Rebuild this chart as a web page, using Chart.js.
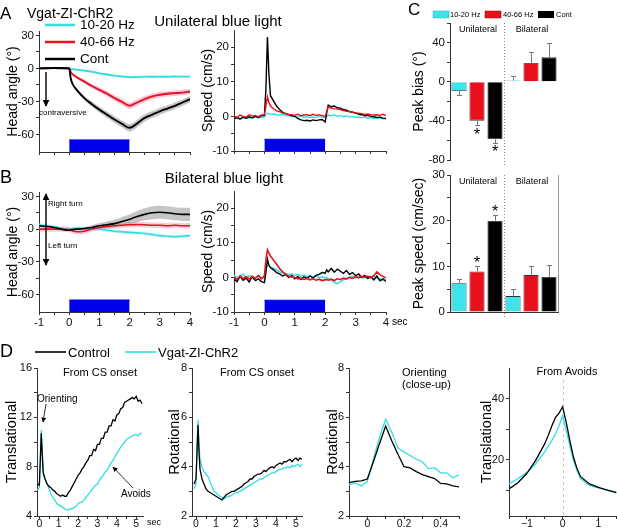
<!DOCTYPE html>
<html>
<head>
<meta charset="utf-8">
<script src="https://cdn.jsdelivr.net/npm/chart.js@4.4.1/dist/chart.umd.min.js"></script>
<style>
  html, body { margin: 0; padding: 0; background: #fff; }
  body { width: 617px; height: 528px; position: relative; overflow: hidden;
         font-family: "Liberation Sans", Arial, sans-serif; color: #000; }
  canvas { position: absolute; }
  .t { position: absolute; white-space: nowrap; line-height: 1; }
  svg { position: absolute; left: 0; top: 0; z-index: 2; }
</style>
</head>
<body>
<svg width="617" height="528" viewBox="0 0 617 528">
  <defs>
    <marker id="ah" viewBox="0 0 10 10" refX="9" refY="5" markerWidth="5" markerHeight="5" orient="auto-start-reverse">
      <path d="M0,0 L10,5 L0,10 z" fill="#000"/>
    </marker>
  </defs>
  <!-- A legend -->
  <line x1="45" y1="25" x2="75" y2="25" stroke="#33dde6" stroke-width="2.5"/>
  <line x1="45" y1="42" x2="75" y2="42" stroke="#e8101a" stroke-width="2.5"/>
  <line x1="45" y1="59" x2="75" y2="59" stroke="#000" stroke-width="2.5"/>
  <!-- A / B arrows -->
  <line x1="46" y1="72" x2="46" y2="106" stroke="#000" stroke-width="1.4" marker-end="url(#ah)"/>
  <line x1="46" y1="194" x2="46" y2="265" stroke="#000" stroke-width="1.4" marker-start="url(#ah)" marker-end="url(#ah)"/>
  <!-- C legend -->
  <rect x="433" y="11" width="16" height="7" fill="#3fe3ea" stroke="#2bb" stroke-width="0.5"/>
  <rect x="485" y="11" width="16" height="7" fill="#e8101a" stroke="#900" stroke-width="0.5"/>
  <rect x="538" y="11" width="16" height="7" fill="#000"/>
  <!-- D legend -->
  <line x1="35" y1="352" x2="66" y2="352" stroke="#000" stroke-width="1.6"/>
  <line x1="125" y1="352" x2="156" y2="352" stroke="#33dde6" stroke-width="1.6"/>
  <!-- D annotations -->
  <line x1="46" y1="404" x2="43" y2="422" stroke="#333" stroke-width="1" marker-end="url(#ah)"/>
  <line x1="133" y1="488" x2="113" y2="467" stroke="#333" stroke-width="1" marker-end="url(#ah)"/>
</svg>
<script>
'use strict';

// ── Panels A/B: time bases (sec) ──────────────────────────────
const tAngle = [-1,-0.5,0,0.05,0.1,0.25,0.5,0.75,1,1.25,1.5,1.75,2,2.1,2.25,2.5,2.75,3,3.25,3.5,3.75,4];
const tSpeed = [-1,-0.9,-0.8,-0.7,-0.6,-0.5,-0.4,-0.3,-0.2,-0.1,0,0.05,0.1,0.15,0.2,0.3,0.4,0.5,0.6,0.7,0.8,0.9,1,1.1,1.2,1.3,1.4,1.5,1.6,1.7,1.8,1.9,2,2.05,2.1,2.2,2.3,2.4,2.5,2.6,2.7,2.8,2.9,3,3.1,3.2,3.3,3.4,3.5,3.6,3.7,3.8,3.9,4];
const lightOn = [0, 2];
const lightTopAngle = -65;
const lightTopSpeed = -6.6;

// A: unilateral, head angle (deg)
const angUniCyan  = [0,0.5,0,-0.3,-0.6,-1.2,-2,-3,-4.5,-5.5,-6.6,-7.3,-8,-8,-7.8,-7.5,-7.6,-7.5,-7.6,-7.4,-7.5,-7.5];
const angUniRed   = [0,0.3,0,-3,-5,-8,-12,-16,-19.5,-23,-27,-30.5,-34,-33,-31,-28,-25.5,-24,-23,-22.5,-22,-21];
const angUniBlack = [0,0.3,0,-9,-13.5,-19.5,-27,-32.5,-37.5,-42,-46.5,-50.5,-54,-53,-50,-45,-42,-39,-36.5,-34,-31,-28];
const semUniCyan  = 0.8;
const semUniRed   = [0.3,0.3,0.3,0.8,1,1.3,1.6,2,2.2,2.4,2.6,2.8,3,3,3,2.8,2.7,2.6,2.5,2.5,2.5,2.5];
const semUniBlack = [0.3,0.3,0.3,1,1.3,1.6,2,2.3,2.6,2.8,3,3.2,3.4,3.4,3.4,3.3,3.2,3.1,3,3,3,3];

// A: unilateral, speed (cm/s)
const spdUniBlack = [-0.6,-0.3,-0.7,-0.2,-0.5,-0.1,-0.4,0.1,-0.3,0.2,0.3,8,23,12,6,4.5,3,2,1.2,0.8,0.5,0.2,0,-0.6,-1,-1.2,-1.1,-1.3,-1,-1.2,-1,-0.9,-1.6,1,3.3,2.8,3,2.5,2.4,2,1.8,1.4,1.2,1,0.6,0.5,0.2,0.3,0,-0.1,-0.3,-0.2,-0.5,-0.6];
const spdUniRed   = [0.2,-0.3,0.4,0,-0.2,0.5,0.1,0.3,-0.1,0.4,0.5,3,5.7,4,3,2.2,1.6,1.4,1,0.8,0.6,0.5,0.3,0.6,0.2,0.4,0.5,0.2,0.6,0.3,0.5,0.2,0,1.5,2.7,2.4,2.2,2.1,2,1.7,1.5,1.4,1.2,1,0.9,0.8,0.6,0.7,0.5,0.4,0.5,0.3,0.6,0.3];
const spdUniCyan  = [-0.8,-0.5,-0.9,-0.4,-0.6,-0.3,-0.5,-0.2,-0.4,-0.3,-0.2,0.5,0.9,0.8,0.6,0.7,0.5,0.4,0.6,0.2,0.3,0,0.1,-0.2,0.1,-0.3,-0.1,-0.4,-0.2,-0.3,0,-0.2,-0.3,0,0.4,0.2,0.5,0,0.3,-0.1,0.2,-0.2,0,-0.3,-0.1,-0.4,-0.2,-0.5,-0.3,-0.6,-0.4,-0.5,-0.7,-0.6];

// B: bilateral, head angle (deg)
const angBiBlack = [3,1.5,-1,-0.8,-0.5,0,0.5,1.5,3,4,5,7,9,10,11.5,13.5,15,15.5,15,14,13.5,13.5];
const angBiRed   = [0,0,-0.5,-1,-1.5,-2.5,-2,0,1.5,2.5,3,3.5,4,4,4.2,4,3.5,3.5,3,3.5,3,3];
const angBiCyan  = [4,2,0,0.3,0.6,1,0.5,0.5,0,-1,-2,-2.5,-3,-3.2,-3.5,-4,-5,-6,-6.5,-7,-6.5,-6];
const semBiBlack = [1,1,1,1,1,1,1.5,2,2.5,3,3.5,4,4.5,4.8,5,5.5,6,6,6,6,6,6];
const semBiRed   = 2.5;
const semBiCyan  = 1.5;

// B: bilateral, speed (cm/s)
const spdBiRed   = [0,-0.6,0.4,-0.3,0.2,-0.5,0.3,-0.2,0.5,-0.4,0.5,5,8,7,6.2,5,3.8,2.6,1.6,0.8,0.4,0.1,0,-0.4,-0.2,-0.6,-0.3,-0.7,-0.4,-0.8,-0.5,-0.9,-0.7,-0.6,-0.8,-0.5,-0.9,-0.4,-0.6,-0.2,-0.5,0,-0.3,0.2,-0.1,0.3,0,0.4,-0.1,0.5,1.6,0.8,0.3,-0.2];
const spdBiBlack = [-0.5,-1.2,0.3,-0.8,-0.2,-1.3,0.2,-0.9,-0.4,-1.2,-1.5,1.5,5.3,3.5,2.8,2.2,1.4,1,0.4,0.8,0,0.5,-0.4,0.3,-0.6,0.2,-0.3,0.4,-0.2,0.6,0.9,1.4,1.2,2.2,1.6,2.6,1.5,2.4,1.8,1.2,2,0.9,1.4,0.5,1,0,0.6,-0.3,0.2,-0.7,0.4,-1,-0.4,-1.2];
const spdBiCyan  = [0.6,-0.2,0.4,0.9,-0.1,0.5,0.2,-0.3,0.6,0,-0.3,2.5,3.8,3.4,3,2.6,2.2,1.6,1.3,1.1,0.8,1,0.6,0.9,0.4,0.7,0.3,0.6,0.1,0.4,0,0.2,-0.2,0,-0.4,-0.8,-1.4,-1.8,-1.2,-0.6,-0.2,0,0.4,-0.2,0.3,-0.1,0.2,-0.3,0.1,0.4,-0.2,-0.4,-0.9,-0.6];

// ── Panel C: peak bias / peak speed ───────────────────────────
const cCategories    = ['Uni 10-20 Hz','Uni 40-66 Hz','Uni Cont','Bi 10-20 Hz','Bi 40-66 Hz','Bi Cont'];
const peakBias       = [-9.4,-39.7,-58.8,1.3,19.2,24.9];
const peakBiasSem    = [4,4.7,4.1,4.4,11.1,15.1];
const peakBiasStars  = [null,-51,-68.5,null,null,null];
const peakSpeed      = [6.3,8.9,20,3.5,8.1,7.7];
const peakSpeedSem   = [0.9,1.1,1.3,1.5,1.9,2.6];
const peakSpeedStars = [null,11.4,22.6,null,null,null];

// ── Panel D ───────────────────────────────────────────────────
const tCs = [-0.1,0,0.05,0.1,0.15,0.2,0.3,0.4,0.5,0.6,0.7,0.8,0.9,1,1.1,1.2,1.3,1.4,1.5,1.6,1.7,1.8,1.9,2,2.1,2.2,2.3,2.4,2.5,2.6,2.7,2.8,2.9,3,3.1,3.2,3.3,3.4,3.5,3.6,3.7,3.8,3.9,4,4.1,4.2,4.3,4.4,4.5,4.6,4.7,4.8,4.9,5,5.1,5.2,5.3];
const transCsBlack = [6.6,6.5,8.5,10.7,9,7.5,7.0,6.6,6.4,6.3,6.1,6.0,5.8,5.7,5.6,5.7,5.6,5.6,5.9,6.1,6.4,6.7,7.0,7.3,7.5,7.8,8.0,8.3,8.5,8.9,8.9,9.4,9.3,9.8,9.8,10.3,10.3,10.8,10.8,11.3,11.3,11.8,11.7,12.2,12.3,12.7,12.8,13.2,13.3,13.4,13.5,13.6,13.5,13.7,13.3,13.4,13.1];
const transCsCyan  = [6.1,6.3,8.8,11.0,9.2,7.6,6.9,6.6,6.2,5.8,5.5,5.3,5.0,4.9,4.8,4.7,4.6,4.5,4.5,4.6,4.6,4.7,4.8,5.0,5.1,5.1,5.3,5.5,5.7,5.9,6.1,6.3,6.5,6.6,6.9,7.1,7.3,7.6,7.7,8.0,8.3,8.5,8.8,9.1,9.3,9.6,9.8,10.0,10.2,10.3,10.4,10.5,10.6,10.6,10.5,10.7,10.7];
const rotCsBlack   = [3.3,3.5,4.6,5.7,4.6,3.9,3.5,3.3,3.1,3.0,2.95,2.9,2.85,2.8,2.75,2.7,2.65,2.75,2.85,2.9,2.95,3.0,3.0,3.05,3.1,3.15,3.2,3.3,3.35,3.4,3.5,3.5,3.6,3.65,3.7,3.7,3.75,3.85,3.8,3.9,3.95,4.0,3.95,4.05,4.1,4.15,4.1,4.2,4.2,4.25,4.3,4.2,4.3,4.35,4.25,4.35,4.3];
const rotCsCyan    = [3.1,3.3,4.8,5.9,4.9,4.3,4.0,3.8,3.7,3.6,3.4,3.2,3.0,2.95,2.85,2.8,2.75,2.7,2.75,2.8,2.8,2.85,2.9,2.95,2.95,3.0,3.05,3.1,3.15,3.2,3.25,3.3,3.35,3.4,3.45,3.5,3.5,3.55,3.6,3.65,3.7,3.75,3.75,3.8,3.85,3.9,3.9,3.95,3.95,4.0,3.95,4.05,4.0,4.05,4.1,4.0,4.1];
const tClose = [-0.1,-0.067,-0.033,0,0.033,0.067,0.1,0.133,0.167,0.2,0.233,0.267,0.3,0.333,0.367,0.4,0.433,0.467,0.5];
const rotCloseBlack = [3.35,3.4,3.42,3.5,4.2,4.95,5.65,5.05,4.5,4.0,3.95,3.8,3.68,3.6,3.52,3.32,3.3,3.22,3.18];
const rotCloseCyan  = [3.25,3.35,3.22,3.4,4.3,5.2,5.92,5.4,4.75,4.6,4.45,4.3,4.2,3.92,3.95,3.75,3.75,3.55,3.67];
const tAvoid = [-1.5,-1.25,-1,-0.75,-0.5,-0.4,-0.3,-0.2,-0.1,0,0.1,0.2,0.3,0.4,0.5,0.75,1,1.25,1.5];
const transAvBlack = [10.4,12.4,15.5,19.8,25.2,28,31.1,33.8,35.2,37.3,32.2,26.3,20.9,17.1,14.4,12,10.9,10,9.2];
const transAvCyan  = [12,13.8,15.7,18.7,22.5,24.5,26.3,28.4,31.1,34.4,29.5,24.6,19.8,16.5,13.8,11.5,10.7,10,9.3];
const avoidOnset = 0;

// ── Tick labels ───────────────────────────────────────────────
const timeTicks  = [-1,0,1,2,3,4],  timeMinor  = [-0.5,0.5,1.5,2.5,3.5];
const angleTicks = [-60,-30,0,30],  angleMinor = [-45,-15,15];
const speedTicks = [-10,0,10,20],   speedMinor = [-5,5,15];
const biasTicks  = [-80,-40,0,40],  biasMinor  = [-60,-20,20,60];
const pSpdTicks  = [0,10,20,30],    pSpdMinor  = [5,15,25];
const csTicks    = [0,1,2,3,4,5],   csMinor    = [0.5,1.5,2.5,3.5,4.5];
const transTicks = [4,8,12,16],     transMinor = [6,10,14];
const rotTicks   = [2,4,6,8],       rotMinor   = [3,5,7];
const closeTicks = [0,0.2,0.4],     closeMinor = [-0.1,0.1,0.3,0.5];
const avTicks    = [-1,0,1],        avMinor    = [-1.5,-0.5,0.5,1.5];
const avYTicks   = [20,40],         avYMinor   = [10,30];

// ── Style ─────────────────────────────────────────────────────
const FONT  = '"Liberation Sans", Arial, sans-serif';
const CYAN  = '#33dde6';
const RED   = '#e8101a';
const BLACK = '#000000';
const BLUE  = '#0000ee';
const BAR_COLORS = [ '#3fe3ea', RED, BLACK, '#3fe3ea', RED, BLACK ];

// ── Helpers ───────────────────────────────────────────────────
function pts(t, v) { return t.map((x, i) => ({ x, y: v[i] })); }

function line(t, v, color, w, order, smooth) {
  return { data: pts(t, v), borderColor: color, borderWidth: w, pointRadius: 0, fill: false, order,
           tension: 0, cubicInterpolationMode: smooth ? 'monotone' : 'default' };
}

function band(t, v, sem, color, order) {
  const s = i => Array.isArray(sem) ? sem[i] : sem;
  return [
    { data: t.map((x, i) => ({ x, y: v[i] + s(i) })), borderWidth: 0, pointRadius: 0, fill: false, order, cubicInterpolationMode: 'monotone' },
    { data: t.map((x, i) => ({ x, y: v[i] - s(i) })), borderWidth: 0, pointRadius: 0, fill: '-1', backgroundColor: color, order, cubicInterpolationMode: 'monotone' }
  ];
}

function lightBar(top) {
  return { data: lightOn.map(x => ({ x, y: top })), borderColor: BLUE, borderWidth: 1, backgroundColor: BLUE,
           pointRadius: 0, fill: 'start', order: 20 };
}

function axis(min, max, major, minor, opts) {
  const o = opts || {};
  return {
    type: 'linear', min, max,
    afterBuildTicks: s => { s.ticks = major.concat(minor).sort((a, b) => a - b).map(value => ({ value })); },
    ticks: {
      autoSkip: false, maxRotation: 0, padding: o.pad != null ? o.pad : 2, color: '#111',
      font: { family: FONT, size: o.size || 11.5 },
      callback: v => (o.labels !== false && major.includes(v)) ? (o.fmt ? o.fmt(v) : String(v)) : ''
    },
    grid: { display: true, drawOnChartArea: false, drawTicks: true, tickLength: 3, color: '#333' },
    border: { display: true, color: '#333', width: 1 },
    title: o.title ? { display: true, text: o.title, padding: 0, color: '#000', font: { family: FONT, size: o.titleSize || 14 } }
                   : { display: false }
  };
}

function makeChart(geo, config) {
  const c = document.createElement('canvas');
  c.width = geo.w; c.height = geo.h;
  c.style.left = geo.x + 'px'; c.style.top = geo.y + 'px';
  c.style.width = geo.w + 'px'; c.style.height = geo.h + 'px';
  document.body.appendChild(c);
  const [L, T, R, B] = geo.area;
  const o = config.options;
  o.responsive = false; o.animation = false; o.devicePixelRatio = 1;
  o.plugins = { legend: { display: false }, tooltip: { enabled: false } };
  o.layout = { padding: { top: T - geo.y, right: geo.x + geo.w - R, left: 0, bottom: 0 } };
  o.scales.x.afterFit = s => { s.height = geo.y + geo.h - B; };
  o.scales.y.afterFit = s => { s.width = L - geo.x; };
  return new Chart(c, config);
}

function lineChart(geo, datasets, x, y, plugins) {
  return makeChart(geo, { type: 'line', data: { datasets }, options: { scales: { x, y } }, plugins: plugins || [] });
}

function txt(s, x, y, size, anchor, style) {
  const d = document.createElement('div');
  d.className = 't';
  d.textContent = s;
  d.style.left = x + 'px'; d.style.top = y + 'px'; d.style.fontSize = size + 'px';
  const tx = anchor === 'c' ? '-50%' : anchor === 'r' ? '-100%' : '0';
  d.style.transform = `translate(${tx}, -50%)`;
  if (style) Object.assign(d.style, style);
  document.body.appendChild(d);
}

// ── Plugins ───────────────────────────────────────────────────
function errorBars(means, sems, stars) {
  return {
    id: 'errorBars',
    afterDatasetsDraw(chart) {
      const { ctx, scales: { y } } = chart;
      const bars = chart.getDatasetMeta(0).data;
      ctx.save();
      ctx.strokeStyle = '#777'; ctx.lineWidth = 1;
      ctx.fillStyle = '#000'; ctx.font = `16px ${FONT}`; ctx.textAlign = 'center'; ctx.textBaseline = 'middle';
      bars.forEach((bar, i) => {
        const dir = means[i] < 0 ? -1 : 1;
        const y0 = y.getPixelForValue(means[i]);
        const y1 = Math.round(y.getPixelForValue(means[i] + dir * sems[i])) + 0.5;
        const bx = Math.round(bar.x) + 0.5;
        ctx.beginPath();
        ctx.moveTo(bx, y0); ctx.lineTo(bx, y1);
        ctx.moveTo(bx - 2.5, y1); ctx.lineTo(bx + 2.5, y1);
        ctx.stroke();
        if (stars[i] != null) ctx.fillText('*', bar.x, y.getPixelForValue(stars[i]) + 4);
      });
      ctx.restore();
    }
  };
}

const groupSplit = {
  id: 'groupSplit',
  afterDatasetsDraw(chart) {
    const { ctx, chartArea: a, scales: { x } } = chart;
    const px = Math.round(x.getPixelForValue(cCategories.length / 2 - 0.5)) + 0.5;
    ctx.save();
    ctx.setLineDash([1, 2]); ctx.strokeStyle = '#888'; ctx.lineWidth = 1;
    ctx.beginPath(); ctx.moveTo(px, a.top); ctx.lineTo(px, a.bottom + 6); ctx.stroke();
    ctx.restore();
  }
};

const rightFrame = {
  id: 'rightFrame',
  afterDraw(chart) {
    const { ctx, chartArea: a } = chart;
    ctx.save();
    ctx.strokeStyle = '#999'; ctx.lineWidth = 1;
    ctx.beginPath(); ctx.moveTo(a.right + 0.5, a.top); ctx.lineTo(a.right + 0.5, a.bottom); ctx.stroke();
    ctx.restore();
  }
};

const avoidLine = {
  id: 'avoidLine',
  beforeDatasetsDraw(chart) {
    const { ctx, chartArea: a, scales: { x } } = chart;
    const px = Math.round(x.getPixelForValue(avoidOnset)) + 0.5;
    ctx.save();
    ctx.setLineDash([3, 3]); ctx.strokeStyle = '#c8c8c8'; ctx.lineWidth = 1;
    ctx.beginPath(); ctx.moveTo(px, a.top + 12); ctx.lineTo(px, a.bottom); ctx.stroke();
    ctx.restore();
  }
};

// ── Panel A ───────────────────────────────────────────────────
lineChart({ x: 5, y: 21, w: 195, h: 143, area: [39, 31, 190, 152] }, [
  line(tAngle, angUniBlack, BLACK, 1.9, 1, true),
  line(tAngle, angUniRed, RED, 1.9, 2, true),
  line(tAngle, angUniCyan, CYAN, 1.9, 3, true),
  ...band(tAngle, angUniBlack, semUniBlack, 'rgba(150,150,150,0.55)', 5),
  ...band(tAngle, angUniRed, semUniRed, 'rgba(240,130,180,0.45)', 6),
  ...band(tAngle, angUniCyan, semUniCyan, 'rgba(140,235,245,0.45)', 7),
  lightBar(lightTopAngle)
], axis(-1, 4, timeTicks, timeMinor, { labels: false }),
   axis(-76, 34, angleTicks, angleMinor, { title: 'Head angle (°)' }));

lineChart({ x: 200, y: 20, w: 196, h: 143, area: [234, 30, 386, 151] }, [
  line(tSpeed, spdUniRed, RED, 1.4, 1),
  line(tSpeed, spdUniBlack, BLACK, 1.4, 2),
  line(tSpeed, spdUniCyan, CYAN, 1.4, 3),
  lightBar(lightTopSpeed)
], axis(-1, 4, timeTicks, timeMinor, { labels: false }),
   axis(-10, 25, speedTicks, speedMinor, { title: 'Speed (cm/s)' }));

// ── Panel B ───────────────────────────────────────────────────
lineChart({ x: 5, y: 182, w: 195, h: 150, area: [39, 192, 190, 312] }, [
  line(tAngle, angBiBlack, BLACK, 1.6, 1, true),
  line(tAngle, angBiRed, RED, 1.6, 2, true),
  line(tAngle, angBiCyan, CYAN, 1.6, 3, true),
  ...band(tAngle, angBiBlack, semBiBlack, 'rgba(150,150,150,0.55)', 5),
  ...band(tAngle, angBiRed, semBiRed, 'rgba(240,130,180,0.4)', 6),
  ...band(tAngle, angBiCyan, semBiCyan, 'rgba(140,235,245,0.45)', 7),
  lightBar(lightTopAngle)
], axis(-1, 4, timeTicks, timeMinor, { pad: 1 }),
   axis(-76, 34, angleTicks, angleMinor, { title: 'Head angle (°)' }));

lineChart({ x: 200, y: 181, w: 196, h: 151, area: [234, 191, 386, 312] }, [
  line(tSpeed, spdBiRed, RED, 1.6, 1),
  line(tSpeed, spdBiBlack, BLACK, 1.4, 2),
  line(tSpeed, spdBiCyan, CYAN, 1.6, 3),
  lightBar(lightTopSpeed)
], axis(-1, 4, timeTicks, timeMinor, { pad: 1 }),
   axis(-10, 25, speedTicks, speedMinor, { title: 'Speed (cm/s)' }));

// ── Panel C ───────────────────────────────────────────────────
function barChart(geo, values, sems, stars, yAx, extraPlugins, showBase) {
  return makeChart(geo, {
    type: 'bar',
    data: { labels: cCategories, datasets: [{
      data: values, backgroundColor: BAR_COLORS, borderColor: '#333', borderWidth: 0.8,
      barPercentage: 0.84, categoryPercentage: 1
    }] },
    options: { scales: {
      x: { type: 'category', ticks: { display: false }, grid: { display: false },
           border: { display: showBase, color: '#333' } },
      y: yAx
    } },
    plugins: [errorBars(values, sems, stars), groupSplit, ...extraPlugins]
  });
}

barChart({ x: 411, y: 13, w: 206, h: 156, area: [450, 23, 558, 163] },
  peakBias, peakBiasSem, peakBiasStars,
  axis(-80, 60, biasTicks, biasMinor, { title: 'Peak bias (°)' }), [], false);

barChart({ x: 411, y: 165, w: 206, h: 156, area: [450, 175, 558, 315] },
  peakSpeed, peakSpeedSem, peakSpeedStars,
  axis(0, 30, pSpdTicks, pSpdMinor, { title: 'Peak speed (cm/sec)' }), [rightFrame], true);

// ── Panel D ───────────────────────────────────────────────────
const dX = { pad: -1, size: 10.5 };
lineChart({ x: 3, y: 358, w: 150, h: 172, area: [37, 368, 143, 516] }, [
  line(tCs, transCsBlack, BLACK, 1.3, 1),
  line(tCs, transCsCyan, CYAN, 1.3, 2)
], axis(-0.12, 5.35, csTicks, csMinor, dX),
   axis(4, 16, transTicks, transMinor, { size: 11, title: 'Translational', titleSize: 14.5 }));

lineChart({ x: 166, y: 358, w: 146, h: 172, area: [192, 368, 302, 516] }, [
  line(tCs, rotCsBlack, BLACK, 1.3, 1),
  line(tCs, rotCsCyan, CYAN, 1.3, 2)
], axis(-0.2, 5.3, csTicks, csMinor, dX),
   axis(2, 8, rotTicks, rotMinor, { size: 11, title: 'Rotational', titleSize: 14.5 }));

lineChart({ x: 324, y: 358, w: 145, h: 172, area: [349, 368, 459, 516] }, [
  line(tClose, rotCloseBlack, BLACK, 1.3, 1),
  line(tClose, rotCloseCyan, CYAN, 1.3, 2)
], axis(-0.1, 0.5, closeTicks, closeMinor, dX),
   axis(2, 8, rotTicks, rotMinor, { size: 11, title: 'Rotational', titleSize: 14.5 }));

lineChart({ x: 478, y: 358, w: 147, h: 172, area: [509, 368, 617, 516] }, [
  line(tAvoid, transAvBlack, BLACK, 1.3, 1),
  line(tAvoid, transAvCyan, CYAN, 1.3, 2)
], axis(-1.5, 1.52, avTicks, avMinor, { pad: -1, size: 10.5, fmt: v => String(v).replace('-', '\u2212') }),
   axis(1.5, 50, avYTicks, avYMinor, { size: 11, title: 'Translational', titleSize: 14.5 }), [avoidLine]);

// ── Text ──────────────────────────────────────────────────────
txt('A', 0, 13, 17, 'l');
txt('Vgat-ZI-ChR2', 27, 13, 14, 'l');
txt('Unilateral blue light', 218, 20, 15, 'c');
txt('10-20 Hz', 80, 25, 13.5, 'l');
txt('40-66 Hz', 80, 42, 13.5, 'l');
txt('Cont', 80, 59, 13.5, 'l');
txt('contraversive', 39, 113, 8, 'l');

txt('B', 0, 177, 18, 'l');
txt('Bilateral blue light', 224, 177, 15, 'c');
txt('Right turn', 48, 204, 8, 'l');
txt('Left turn', 48, 246, 8, 'l');
txt('sec', 392, 322, 10, 'l');

txt('C', 408, 9, 17, 'l');
txt('10-20 Hz', 450, 15, 7.5, 'l');
txt('40-66 Hz', 503, 15, 7.5, 'l');
txt('Cont', 556, 15, 7.5, 'l');
txt('Unilateral', 478, 29, 9, 'c');
txt('Bilateral', 532, 29, 9, 'c');
txt('Unilateral', 478, 181, 9, 'c');
txt('Bilateral', 532, 181, 9, 'c');

txt('D', 0, 351, 18, 'l');
txt('Control', 68, 352, 13, 'l');
txt('Vgat-ZI-ChR2', 158, 352, 13, 'l');
txt('From CS onset', 100, 372, 11, 'c');
txt('From CS onset', 257, 372, 11, 'c');
txt('Orienting', 402, 372, 11, 'l');
txt('(close-up)', 402, 384, 11, 'l');
txt('From Avoids', 567, 371, 11, 'c');
txt('Orienting', 37, 399, 10, 'l');
txt('Avoids', 121, 494, 10, 'l');
txt('sec', 147, 522, 9, 'l');
</script>
</body>
</html>
